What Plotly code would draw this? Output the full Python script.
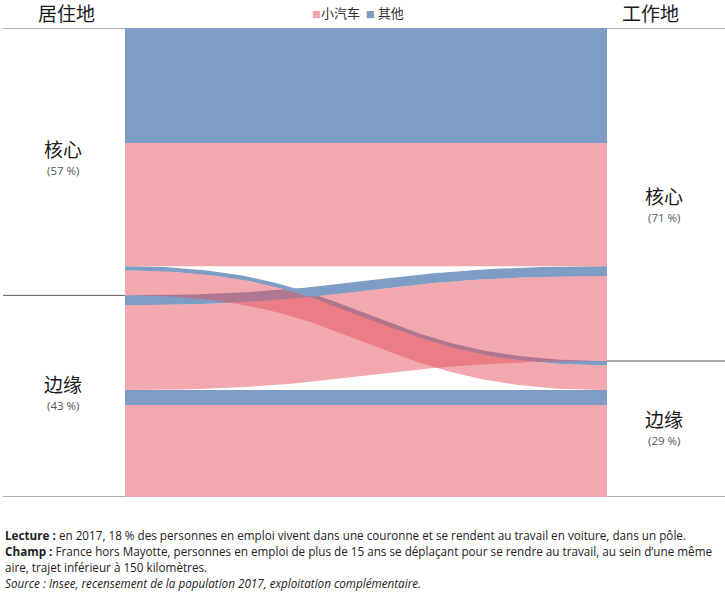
import numpy as np
import plotly.graph_objects as go

# Flows between place of residence and place of work, split by transport mode (% of employed people)
origin = ["核心", "核心", "核心", "核心", "边缘", "边缘", "边缘", "边缘"]
dest = ["核心", "核心", "边缘", "边缘", "核心", "核心", "边缘", "边缘"]
mode = ["其他", "小汽车", "其他", "小汽车", "其他", "小汽车", "其他", "小汽车"]
share = [24.5, 26.3, 0.9, 5.3, 2.1, 18.1, 3.2, 19.6]

places = ["核心", "边缘"]
stack_modes = ["其他", "小汽车"]  # blue on top inside each pair
res_pct = ["57 %", "43 %"]
work_pct = ["71 %", "29 %"]

W, H = 725, 593
TOP, BOT = 28, 497
X0, X1 = 125, 607
XM = (X0 + X1) / 2

color = {"小汽车": "rgba(227,81,93,0.5)", "其他": "rgb(125,157,196)"}
swatch = {"小汽车": "rgb(240,168,174)", "其他": "rgb(125,157,196)"}

n = len(share)


def stack(order):
    pos, y = {}, 0.0
    for i in order:
        pos[i] = (y, y + share[i])
        y += share[i]
    return pos


left = stack(sorted(range(n), key=lambda i: (places.index(origin[i]), places.index(dest[i]),
                                             stack_modes.index(mode[i]))))
right = stack(sorted(range(n), key=lambda i: (places.index(dest[i]), places.index(origin[i]),
                                              stack_modes.index(mode[i]))))

t = np.linspace(0, 1, 90)
bx = (1 - t) ** 3 * X0 + 3 * (1 - t) ** 2 * t * XM + 3 * (1 - t) * t ** 2 * XM + t ** 3 * X1


def edge(ya, yb):
    return ya + (yb - ya) * (3 * t ** 2 - 2 * t ** 3)


fig = go.Figure()

# blue bands first, translucent pink bands drawn over them
for m in ["其他", "小汽车"]:
    for i in range(n):
        if mode[i] != m:
            continue
        (la, lb), (ra, rb) = left[i], right[i]
        xs = np.concatenate([bx, bx[::-1]])
        ys = np.concatenate([edge(la, ra), edge(lb, rb)[::-1]])
        fig.add_trace(go.Scatter(
            x=xs, y=ys, fill="toself", fillcolor=color[m], mode="lines",
            line=dict(width=0), hoverinfo="skip", showlegend=False,
        ))

# separator lines on the two side columns
res_tot = [sum(s for s, o in zip(share, origin) if o == p) for p in places]
work_tot = [sum(s for s, d in zip(share, dest) if d == p) for p in places]
shapes = []
for xa, xb, tot in [(3, X0, res_tot), (X1, W, work_tot)]:
    for y in [0, tot[0], 100]:
        shapes.append(dict(type="line", xref="x", yref="y", x0=xa, x1=xb, y0=y, y1=y,
                           line=dict(color="#5a5a5a", width=1)))


def py(p):
    return (BOT - p) / (BOT - TOP)


def label(text, x, y, size, family, col, xanchor="center"):
    return dict(text=text, x=x / W, y=py(y), xref="paper", yref="paper", showarrow=False,
                xanchor=xanchor, yanchor="middle", font=dict(family=family, size=size, color=col))


cjk = "Noto Sans CJK SC"
ann = [
    label("居住地", 66, 12, 19, cjk, "#1a1a1a"),
    label("工作地", 650, 12, 19, cjk, "#1a1a1a"),
]

leg = ("<span style='color:%s;font-size:9px'>■</span>小汽车  "
       "<span style='color:%s;font-size:9px'>■</span> 其他") % (swatch["小汽车"], swatch["其他"])
ann.append(label(leg, 358, 13, 13, cjk, "#333333"))

label_y_left = [148, 383]
label_y_right = [195, 418]
for k, p in enumerate(places):
    for xc, ly, pct in [(63, label_y_left[k], res_pct[k]), (664, label_y_right[k], work_pct[k])]:
        ann.append(label(p, xc, ly, 19, cjk, "#1a1a1a"))
        ann.append(label("(%s)" % pct, xc, ly + 22, 11.5, "Open Sans", "#555555"))

notes = [
    "<b>Lecture :</b> en 2017, 18 % des personnes en emploi vivent dans une couronne et se rendent au travail en voiture, dans un pôle.",
    "<b>Champ :</b> France hors Mayotte, personnes en emploi de plus de 15 ans se déplaçant pour se rendre au travail, au sein d’une même",
    "aire, trajet inférieur à 150 kilomètres.",
    "<i>Source : Insee, recensement de la population 2017, exploitation complémentaire.</i>",
]
for k, line in enumerate(notes):
    ann.append(label(line, 3, 535 + 16 * k, 11.7, "Open Sans", "#222222", xanchor="left"))

fig.update_layout(
    width=W, height=H,
    margin=dict(l=0, r=0, t=TOP, b=H - BOT),
    paper_bgcolor="white", plot_bgcolor="white",
    xaxis=dict(range=[0, W], visible=False, fixedrange=True),
    yaxis=dict(range=[100, 0], visible=False, fixedrange=True),
    shapes=shapes, annotations=ann, showlegend=False,
)

fig.write_html("out.html", config={"displayModeBar": False},
               post_script="document.body.style.margin='0px';")
